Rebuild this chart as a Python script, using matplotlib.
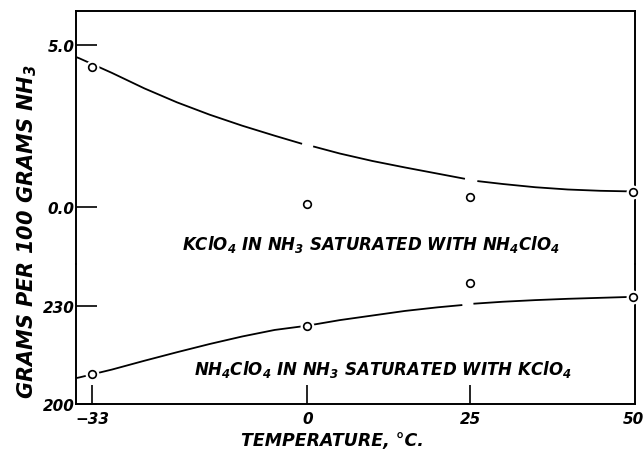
import numpy as np
import matplotlib
matplotlib.use("Agg")
import matplotlib.pyplot as plt

# ---------------- data ----------------
nan = float("nan")
temps = [-33, 0, 25, 50]
kclo4_points = [4.32, 0.09, 0.31, 0.46]          # grams KClO4 / 100 g NH3
nh4clo4_points = [209.2, 223.8, 236.9, 232.7]    # grams NH4ClO4 / 100 g NH3

# smooth (hand-drawn) curves, with the small gaps of the original drawing
kclo4_curve_t = [-35.5, -35, -30, -25, -20, -15, -10, -5, -0.8, nan, 0.9,
                 5, 10, 15, 20, 24.2, nan, 26.1, 30, 35, 40, 45, 50]
kclo4_curve_v = [4.63, 4.59, 4.14, 3.66, 3.23, 2.85, 2.51, 2.20, 1.95, nan, 1.87,
                 1.65, 1.42, 1.22, 1.03, 0.87, nan, 0.80, 0.71, 0.61, 0.54, 0.50, 0.48]
nh4clo4_curve_t = [-35.5, -35, -30, -25, -20, -15, -10, -5, 0, 5, 10, 15, 20,
                   23.8, nan, 25.5, 30, 35, 40, 45, 50]
nh4clo4_curve_v = [207.9, 208.1, 210.5, 213.2, 215.8, 218.3, 220.6, 222.6, 223.9,
                   225.6, 227.0, 228.4, 229.5, 230.2, nan, 230.6, 231.2, 231.7,
                   232.1, 232.4, 232.7]

x_ticks = [-33, 0, 25, 50]
x_tick_labels = ["\u221233", "0", "25", "50"]
upper_yticks = [0.0, 5.0]
upper_ytick_labels = ["0.0", "5.0"]
lower_yticks = [200, 230]
lower_ytick_labels = ["200", "230"]

upper_label = "KClO$_4$ IN NH$_3$ SATURATED WITH NH$_4$ClO$_4$"
lower_label = "NH$_4$ClO$_4$ IN NH$_3$ SATURATED WITH KClO$_4$"
x_label = "TEMPERATURE, \u00b0C."
y_label = "GRAMS PER 100 GRAMS NH$_3$"

# ---------------- style ----------------
plt.rcParams.update({
    "font.family": "DejaVu Sans",
    "font.style": "italic",
    "font.weight": "bold",
    "mathtext.fontset": "custom",
    "mathtext.default": "regular",
    "mathtext.rm": "DejaVu Sans:italic:bold",
    "mathtext.it": "DejaVu Sans:italic:bold",
    "mathtext.bf": "DejaVu Sans:italic:bold",
})

W, H = 643, 452
fig = plt.figure(figsize=(W / 100, H / 100), dpi=100)


def fx(px):
    return px / W


def fy(py):
    return 1 - py / H


L, R, T, B, M = 76, 635, 12, 405, 265
ax_u = fig.add_axes([fx(L), fy(M), fx(R) - fx(L), fy(T) - fy(M)])
ax_l = fig.add_axes([fx(L), fy(B), fx(R) - fx(L), fy(M) - fy(B)])

xlim = (-35.5, 50.3)
for ax in (ax_u, ax_l):
    ax.set_xlim(*xlim)
    ax.patch.set_alpha(0)
    for s in ax.spines.values():
        s.set_linewidth(1.4)
ax_u.set_ylim(-1.759, 6.049)
ax_l.set_ylim(200, 242.72)
ax_u.spines["bottom"].set_visible(False)
ax_l.spines["top"].set_visible(False)

line_kw = dict(color="black", lw=1.3, solid_capstyle="butt")
ax_u.plot(kclo4_curve_t, kclo4_curve_v, **line_kw, zorder=2)
ax_l.plot(nh4clo4_curve_t, nh4clo4_curve_v, **line_kw, zorder=2)

for ax, vals in ((ax_u, kclo4_points), (ax_l, nh4clo4_points)):
    ax.plot(temps, vals, ls="none", marker="o", ms=10, mfc="white",
            mec="white", mew=0, zorder=3, clip_on=False)
    ax.plot(temps, vals, ls="none", marker="o", ms=5.5, mfc="white",
            mec="black", mew=1.2, zorder=4, clip_on=False)

# ticks
ax_u.tick_params(axis="x", bottom=False, labelbottom=False)
ax_u.set_yticks(upper_yticks)
ax_u.set_yticklabels(upper_ytick_labels)
ax_l.set_yticks(lower_yticks)
ax_l.set_yticklabels(lower_ytick_labels)
ax_l.set_xticks(x_ticks)
ax_l.set_xticklabels(x_tick_labels)
for ax in (ax_u, ax_l):
    ax.tick_params(axis="y", direction="in", length=15, width=1.2,
                   pad=1, labelsize=11)
ax_l.tick_params(axis="x", direction="in", length=14, width=1.2,
                 pad=5, labelsize=11)
# the 50 tick coincides with the right frame line in the original
ax_l.xaxis.get_major_ticks()[-1].tick1line.set_visible(False)

# labels
fig.text(fx(371), fy(250), upper_label, ha="center", va="baseline", fontsize=12)
fig.text(fx(383), fy(375), lower_label, ha="center", va="baseline", fontsize=12)
fig.text(fx(332), fy(446), x_label, ha="center", va="baseline", fontsize=12.5)
fig.text(fx(27), fy(232), y_label, ha="center", va="center", rotation=90,
         fontsize=15)

fig.savefig("out.png", dpi=100)
